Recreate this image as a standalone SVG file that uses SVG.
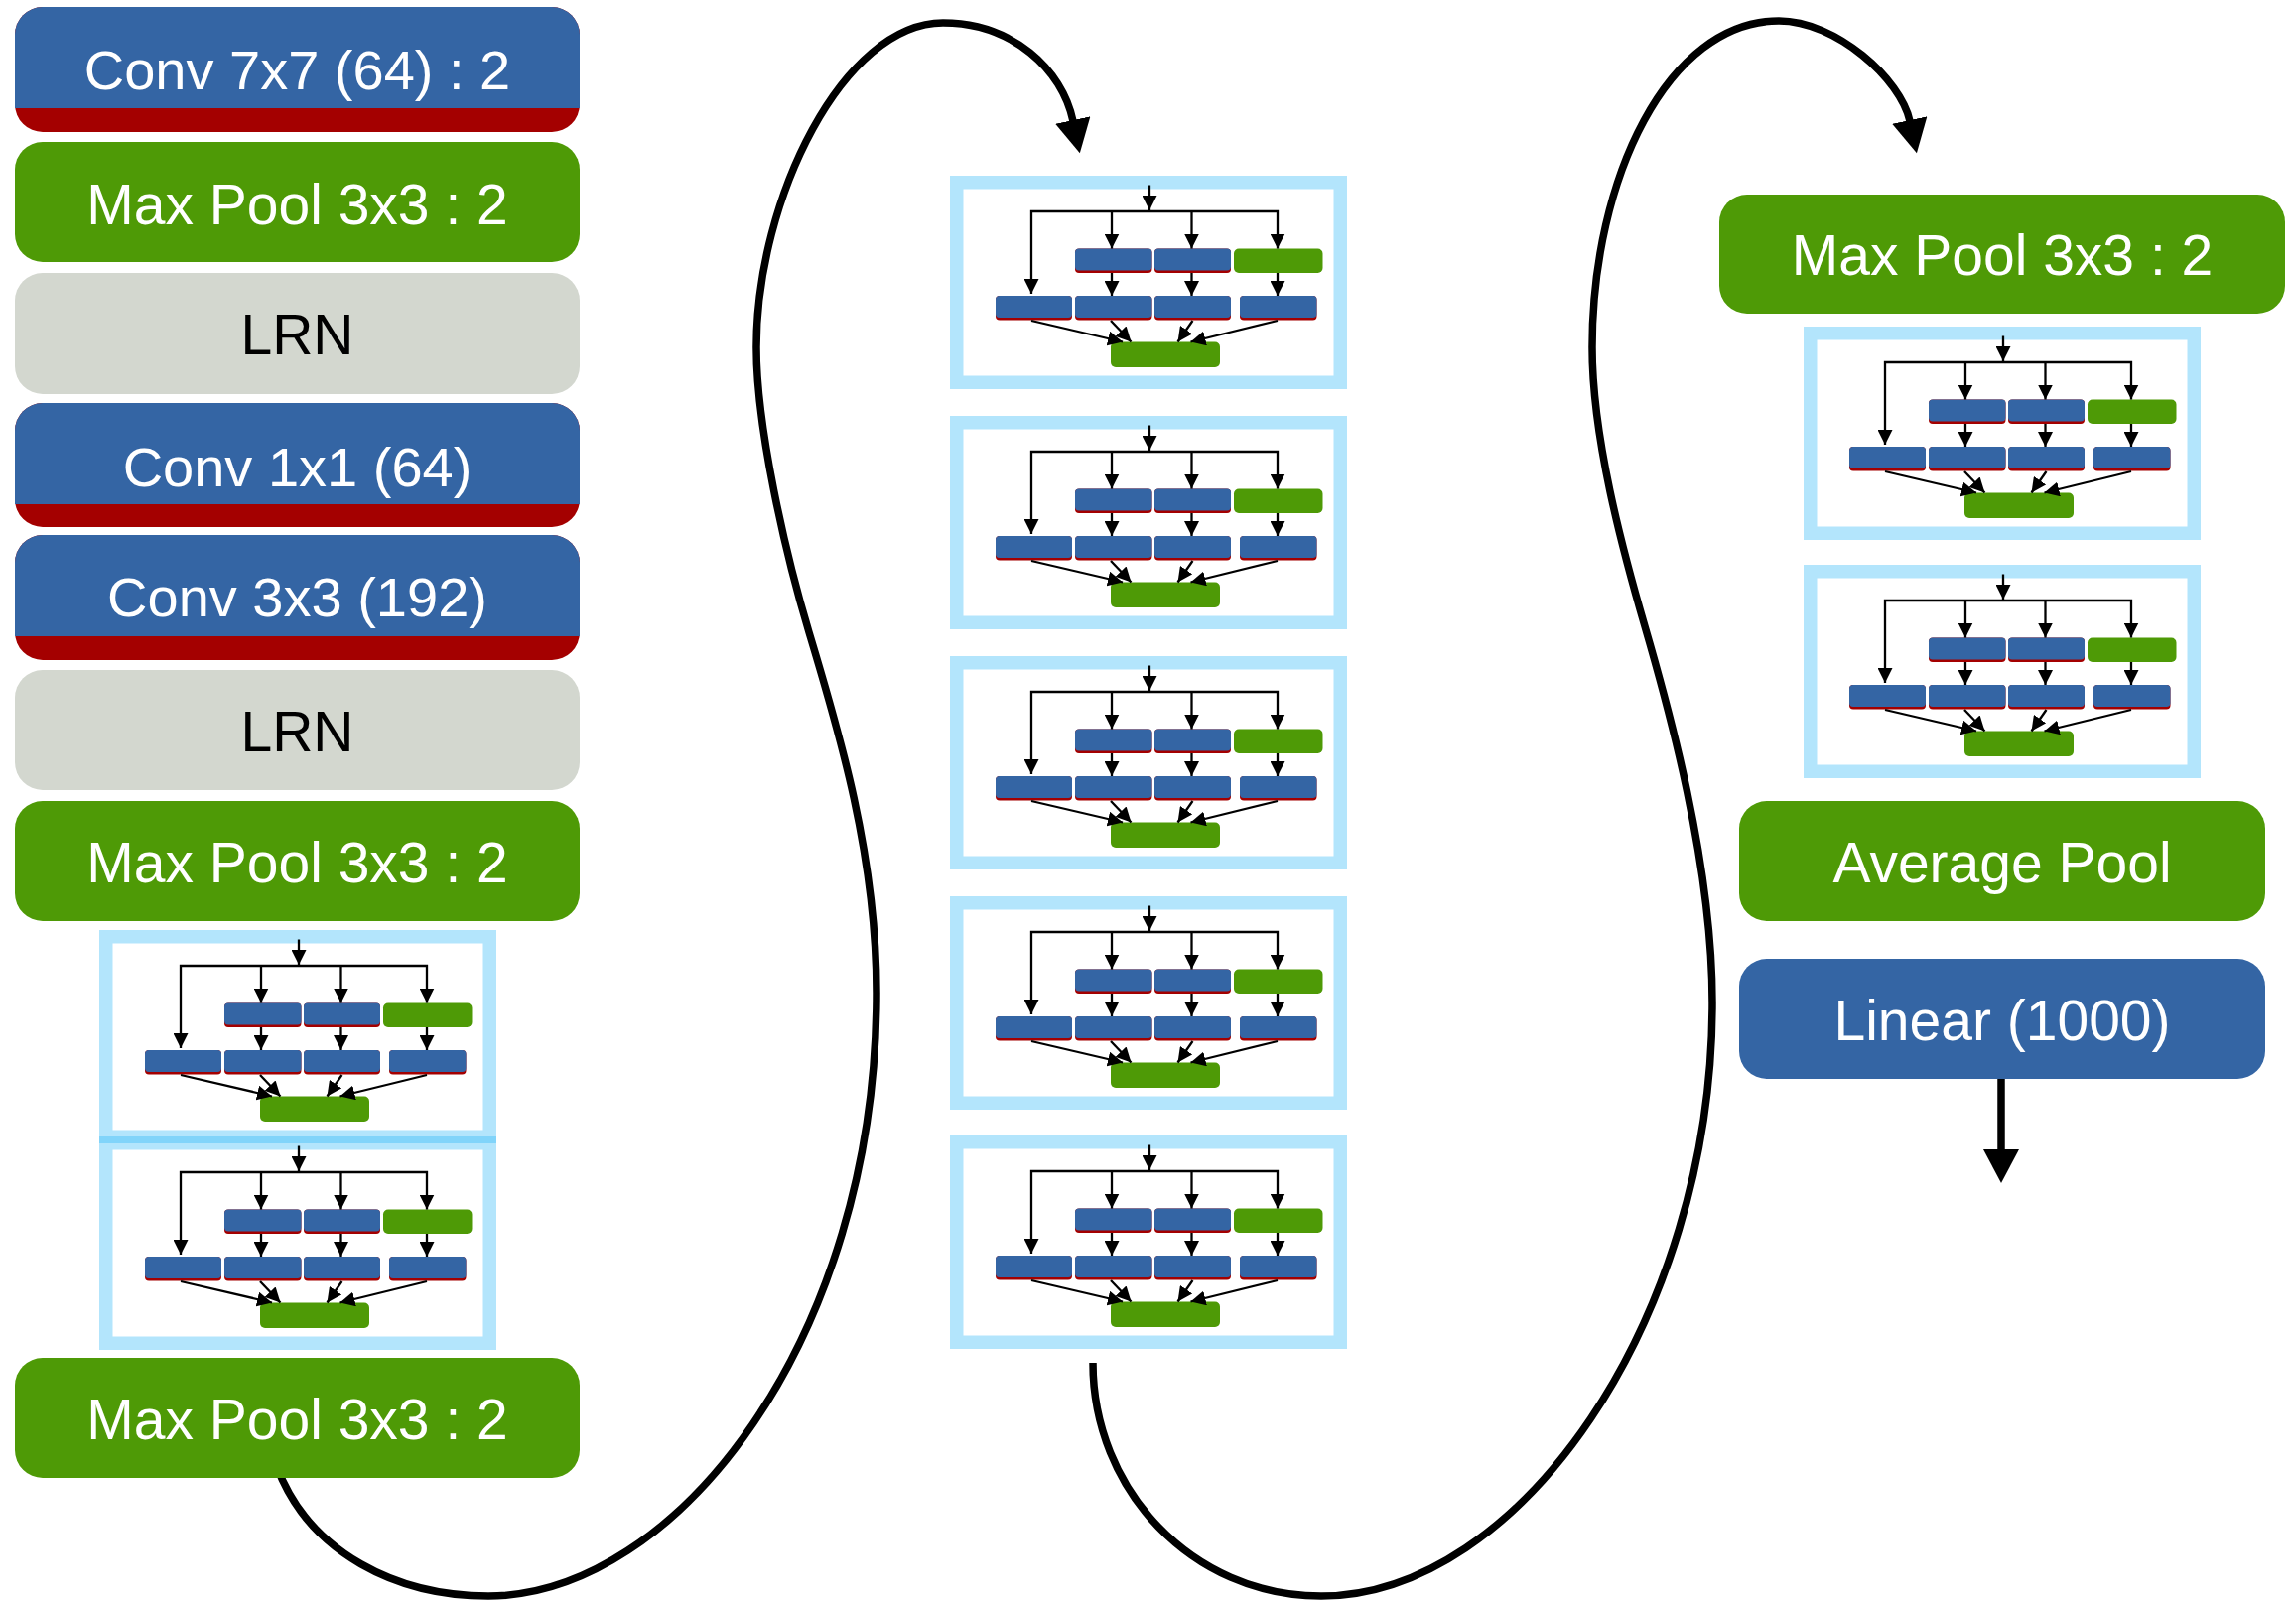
<svg xmlns="http://www.w3.org/2000/svg" width="2313" height="1615" viewBox="0 0 2313 1615">
<style>
.t{font-family:"Liberation Sans",Arial,Helvetica,sans-serif;font-size:57px;fill:#fff;text-anchor:middle}
.tc{font-size:56px}
.tk{fill:#000}
.blue{fill:#3465a4}
.red{fill:#a40000}
.green{fill:#4e9a06}
.gray{fill:#d3d7cf}
.frame{fill:none;stroke:#21b3f6;stroke-opacity:.342;stroke-width:13.5}
.ln{fill:none;stroke:#000;stroke-width:2.3}
.big{fill:none;stroke:#000;stroke-width:7.5}
</style>
<defs>
<marker id="sa" markerUnits="userSpaceOnUse" markerWidth="15" markerHeight="15" refX="15" refY="7.5" orient="auto-start-reverse"><path d="M0,0 L15,7.5 L0,15 Z"/></marker>
<marker id="ba" markerUnits="userSpaceOnUse" markerWidth="35" markerHeight="36" refX="1" refY="18" orient="auto"><path d="M0,0 L34,18 L0,36 Z"/></marker>
<g id="inc">
<rect class="frame" x="6.75" y="6.75" width="386.5" height="201.5"/>
<rect class="red" x="126" y="73.5" width="77.5" height="24.5" rx="4"/><rect class="blue" x="126" y="73.5" width="77.5" height="22" rx="4"/>
<rect class="red" x="206" y="73.5" width="77" height="24.5" rx="4"/><rect class="blue" x="206" y="73.5" width="77" height="22" rx="4"/>
<rect class="green" x="286" y="73.5" width="89.5" height="24.5" rx="5"/>
<rect class="red" x="46" y="121" width="77" height="24.5" rx="4"/><rect class="blue" x="46" y="121" width="77" height="22" rx="4"/>
<rect class="red" x="126" y="121" width="77.5" height="24.5" rx="4"/><rect class="blue" x="126" y="121" width="77.5" height="22" rx="4"/>
<rect class="red" x="206" y="121" width="77" height="24.5" rx="4"/><rect class="blue" x="206" y="121" width="77" height="22" rx="4"/>
<rect class="red" x="292" y="121" width="77.5" height="24.5" rx="4"/><rect class="blue" x="292" y="121" width="77.5" height="22" rx="4"/>
<rect class="green" x="162" y="167.5" width="110" height="25.5" rx="5"/>
<path class="ln" d="M201,9.5 V35" marker-end="url(#sa)"/>
<path class="ln" d="M82,119 V36 H330 V73.5" marker-start="url(#sa)" marker-end="url(#sa)"/>
<path class="ln" d="M163,36 V73.5" marker-end="url(#sa)"/>
<path class="ln" d="M243.5,36 V73.5" marker-end="url(#sa)"/>
<path class="ln" d="M163,98 V121" marker-end="url(#sa)"/>
<path class="ln" d="M243.5,98 V121" marker-end="url(#sa)"/>
<path class="ln" d="M330,98 V121" marker-end="url(#sa)"/>
<path class="ln" d="M82,146 L174,167.5" marker-end="url(#sa)"/>
<path class="ln" d="M162,146 L182.5,167.5" marker-end="url(#sa)"/>
<path class="ln" d="M244.5,146 L229.5,167.5" marker-end="url(#sa)"/>
<path class="ln" d="M330,146 L242.5,167.5" marker-end="url(#sa)"/>
</g>
</defs>

<g id="connectors">
<path id="curve-left" class="big" d="M279,1478 C312,1565 400,1608 492,1608 C680,1608 883,1350 883,1000 C883,860 843,730 815,637 C791,557 762,430 762,350 C762,200 850,23 950,23 C1020,23 1070,70 1081,122" marker-end="url(#ba)"/>
<path id="curve-right" class="big" d="M1101,1373 C1101,1500 1200,1608 1331,1608 C1530,1608 1725,1330 1725,1010 C1725,870 1680,710 1657,631 C1634,552 1604,440 1604,350 C1604,180 1680,21 1792,21 C1850,21 1915,80 1924,122" marker-end="url(#ba)"/>
<path id="out-arrow" class="big" d="M2016,1087 V1159" marker-end="url(#ba)"/>
</g>

<g id="conv7x7">
<rect class="red" x="15" y="7" width="569" height="126" rx="28"/>
<path class="blue" d="M15,109 V35 A28,28 0 0 1 43,7 H556 A28,28 0 0 1 584,35 V109 Z"/>
<text class="t tc" x="299.5" y="90">Conv 7x7 (64) : 2</text>
</g>
<g id="maxpool1">
<rect class="green" x="15" y="143" width="569" height="121" rx="28"/>
<text class="t" x="299.5" y="226">Max Pool 3x3 : 2</text>
</g>
<g id="lrn1">
<rect class="gray" x="15" y="275" width="569" height="122" rx="28"/>
<text class="t tk" x="299.5" y="357">LRN</text>
</g>
<g id="conv1x1">
<rect class="red" x="15" y="406" width="569" height="125" rx="28"/>
<path class="blue" d="M15,508 V434 A28,28 0 0 1 43,406 H556 A28,28 0 0 1 584,434 V508 Z"/>
<text class="t tc" x="299.5" y="490">Conv 1x1 (64)</text>
</g>
<g id="conv3x3">
<rect class="red" x="15" y="539" width="569" height="126" rx="28"/>
<path class="blue" d="M15,641 V567 A28,28 0 0 1 43,539 H556 A28,28 0 0 1 584,567 V641 Z"/>
<text class="t tc" x="299.5" y="621">Conv 3x3 (192)</text>
</g>
<g id="lrn2">
<rect class="gray" x="15" y="675" width="569" height="121" rx="28"/>
<text class="t tk" x="299.5" y="757">LRN</text>
</g>
<g id="maxpool2">
<rect class="green" x="15" y="807" width="569" height="121" rx="28"/>
<text class="t" x="299.5" y="889">Max Pool 3x3 : 2</text>
</g>
<g id="inception3a"><use href="#inc" x="100" y="937"/></g>
<g id="inception3b"><use href="#inc" x="100" y="1145"/></g>
<g id="maxpool3">
<rect class="green" x="15" y="1368" width="569" height="121" rx="28"/>
<text class="t" x="299.5" y="1450">Max Pool 3x3 : 2</text>
</g>

<g id="inception4a"><use href="#inc" x="957" y="177"/></g>
<g id="inception4b"><use href="#inc" x="957" y="419"/></g>
<g id="inception4c"><use href="#inc" x="957" y="661"/></g>
<g id="inception4d"><use href="#inc" x="957" y="903"/></g>
<g id="inception4e"><use href="#inc" x="957" y="1144"/></g>

<g id="maxpool4">
<rect class="green" x="1732" y="196" width="570" height="120" rx="28"/>
<text class="t" x="2017" y="277">Max Pool 3x3 : 2</text>
</g>
<g id="inception5a"><use href="#inc" x="1817" y="329"/></g>
<g id="inception5b"><use href="#inc" x="1817" y="569"/></g>
<g id="avgpool">
<rect class="green" x="1752" y="807" width="530" height="121" rx="28"/>
<text class="t" x="2017" y="889">Average Pool</text>
</g>
<g id="linear">
<rect class="blue" x="1752" y="966" width="530" height="121" rx="28"/>
<text class="t" x="2017" y="1048">Linear (1000)</text>
</g>
</svg>
